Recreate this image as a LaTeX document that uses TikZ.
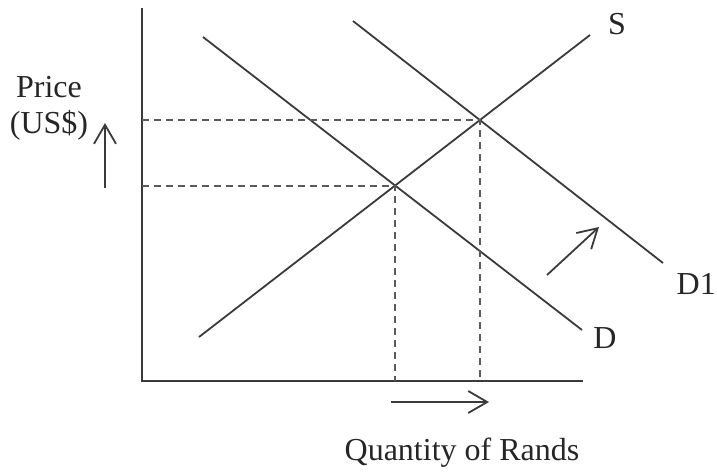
\documentclass[tikz,border=0pt]{standalone}
\usepackage{fontspec}
\setmainfont{Liberation Serif}
\usetikzlibrary{arrows.meta,positioning,calc}
\definecolor{linegray}{RGB}{58,58,58}
\definecolor{dashgray}{RGB}{90,90,90}

\begin{document}
\begin{tikzpicture}[x=1pt, y=-1pt,
    axis/.style={line width=2pt, linegray},
    curve/.style={line width=1.8pt, linegray},
    guide/.style={line width=2pt, dashgray, dash pattern=on 7pt off 5pt},
    shiftarrow/.style={line width=1.8pt, linegray,
        -{Straight Barb[length=19pt, width=22pt, line width=1.8pt]}},
    lbl/.style={font=\fontsize{32}{36}\selectfont, text=black!85, inner sep=0pt, anchor=base}
  ]
  \useasboundingbox (0,0) rectangle (717,475);

  % axes
  \coordinate (origin) at (142,381);
  \coordinate (ytop) at (142,8);
  \coordinate (xend) at (583,381);
  \draw[axis] (ytop) -- (origin) -- (xend);

  % supply and demand curves
  \coordinate (S start) at (199,337);
  \coordinate (S end) at (590,35);
  \coordinate (D start) at (203,37);
  \coordinate (D end) at (582,330);
  \coordinate (D1 start) at (353,21);
  \coordinate (D1 end) at (663,263);
  \draw[curve] (S start) -- (S end);
  \draw[curve] (D start) -- (D end);
  \draw[curve] (D1 start) -- (D1 end);

  % equilibria and guides
  \coordinate (E1) at (intersection of S start--S end and D start--D end);
  \coordinate (E2) at (intersection of S start--S end and D1 start--D1 end);
  \draw[guide] (E1 -| origin) -- (E1) -- (E1 |- origin);
  \draw[guide] (E2 -| origin) -- (E2) -- (E2 |- origin);

  % shift arrows
  \coordinate (up tail) at (105,188);
  \coordinate (up head) at (105,123);
  \coordinate (shift tail) at (547,275);
  \coordinate (shift head) at (599,227);
  \coordinate (qty tail) at (391,402);
  \coordinate (qty head) at (489,402);
  \draw[shiftarrow] (up tail) -- (up head);
  \draw[shiftarrow] (shift tail) -- (shift head);
  \draw[shiftarrow] (qty tail) -- (qty head);

  % labels
  \node[lbl] (S label) at (617,34) {S};
  \node[lbl] (D label) at (605,348) {D};
  \node[lbl, anchor=base east] (D1 label) at (716,294) {D1};
  \node[lbl] (price) at (49,97) {Price};
  \node[lbl] (currency) at (49,133) {(US\$)};
  \node[lbl] (quantity) at (462,460) {Quantity of Rands};
\end{tikzpicture}
\end{document}
